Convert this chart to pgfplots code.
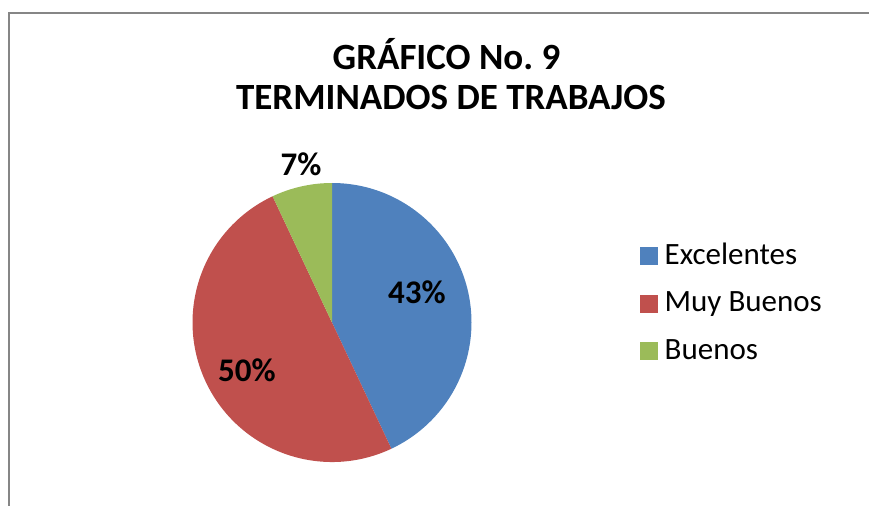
\documentclass[border=0pt]{standalone}
\usepackage{pgfplots}
\usepackage{pgfplotstable}
\usepackage{fontspec}
\setmainfont{Carlito}
\pgfplotsset{compat=1.18}
\definecolor{cblue}{RGB}{79,129,189}
\definecolor{cred}{RGB}{192,80,77}
\definecolor{cgreen}{RGB}{155,187,89}
\definecolor{frame}{RGB}{134,134,134}
\pgfplotsset{sqlegend/.style={legend image code/.code={\path[##1] (0bp,-1bp) rectangle (18bp,17bp);}}}
\pgfplotstableread{
name value
Excelentes 43
MuyBuenos 50
Buenos 7
}\piedata
\begin{document}
\begin{tikzpicture}
\pgfplotstablegetelem{0}{value}\of\piedata \let\va\pgfplotsretval
\pgfplotstablegetelem{1}{value}\of\piedata \let\vb\pgfplotsretval
\pgfplotstablegetelem{2}{value}\of\piedata \let\vc\pgfplotsretval
\pgfmathsetmacro{\aa}{90}
\pgfmathsetmacro{\ab}{90-3.6*\va}
\pgfmathsetmacro{\ac}{\ab-3.6*\vb}
\pgfmathsetmacro{\ad}{\ac-3.6*\vc}
\begin{axis}[
  at={(0,0)}, anchor=origin,
  x=1bp, y=1bp,
  xmin=0, xmax=869, ymin=0, ymax=506,
  hide axis, clip=false,
  legend style={
    at={(axis cs:637,263)}, anchor=north west,
    draw=none, fill=none,
    font=\fontsize{31bp}{36bp}\selectfont,
    nodes={text height=19bp, text depth=5bp, inner ysep=0pt, inner xsep=6.5bp, anchor=base west},
    row sep=23.5bp,
  },
  legend cell align=left,
]
% frame
\draw[frame, line width=2bp] (axis cs:9,0) -- (axis cs:9,492.5) -- (axis cs:869,492.5);
% pie slices
\fill[cblue] (axis cs:332,183.5) -- ++(\aa:139.5bp) arc[start angle=\aa, end angle=\ab, radius=139.5bp] -- cycle;
\fill[cred] (axis cs:332,183.5) -- ++(\ab:139.5bp) arc[start angle=\ab, end angle=\ac, radius=139.5bp] -- cycle;
\fill[cgreen] (axis cs:332,183.5) -- ++(\ac:139.5bp) arc[start angle=\ac, end angle=\ad, radius=139.5bp] -- cycle;
% labels
\node[font=\bfseries\fontsize{33bp}{38bp}\selectfont] at (axis cs:417,214) {43\%};
\node[font=\bfseries\fontsize{33bp}{38bp}\selectfont] at (axis cs:247,136) {50\%};
\node[font=\bfseries\fontsize{33bp}{38bp}\selectfont] at (axis cs:301,342) {7\%};
% title
\node[anchor=base, font=\bfseries\fontsize{37bp}{42bp}\selectfont] at (axis cs:446.5,436) {GRÁFICO No.\ 9};
\node[anchor=base, font=\bfseries\fontsize{37bp}{42bp}\selectfont] at (axis cs:451,396) {TERMINADOS DE TRABAJOS};
% legend
\addlegendimage{fill=cblue, draw=none, sqlegend}
\addlegendentry{Excelentes}
\addlegendimage{fill=cred, draw=none, sqlegend}
\addlegendentry{Muy Buenos}
\addlegendimage{fill=cgreen, draw=none, sqlegend}
\addlegendentry{Buenos}
\end{axis}
\pgfresetboundingbox
\path (0,0) rectangle (869bp,506bp);
\end{tikzpicture}
\end{document}
